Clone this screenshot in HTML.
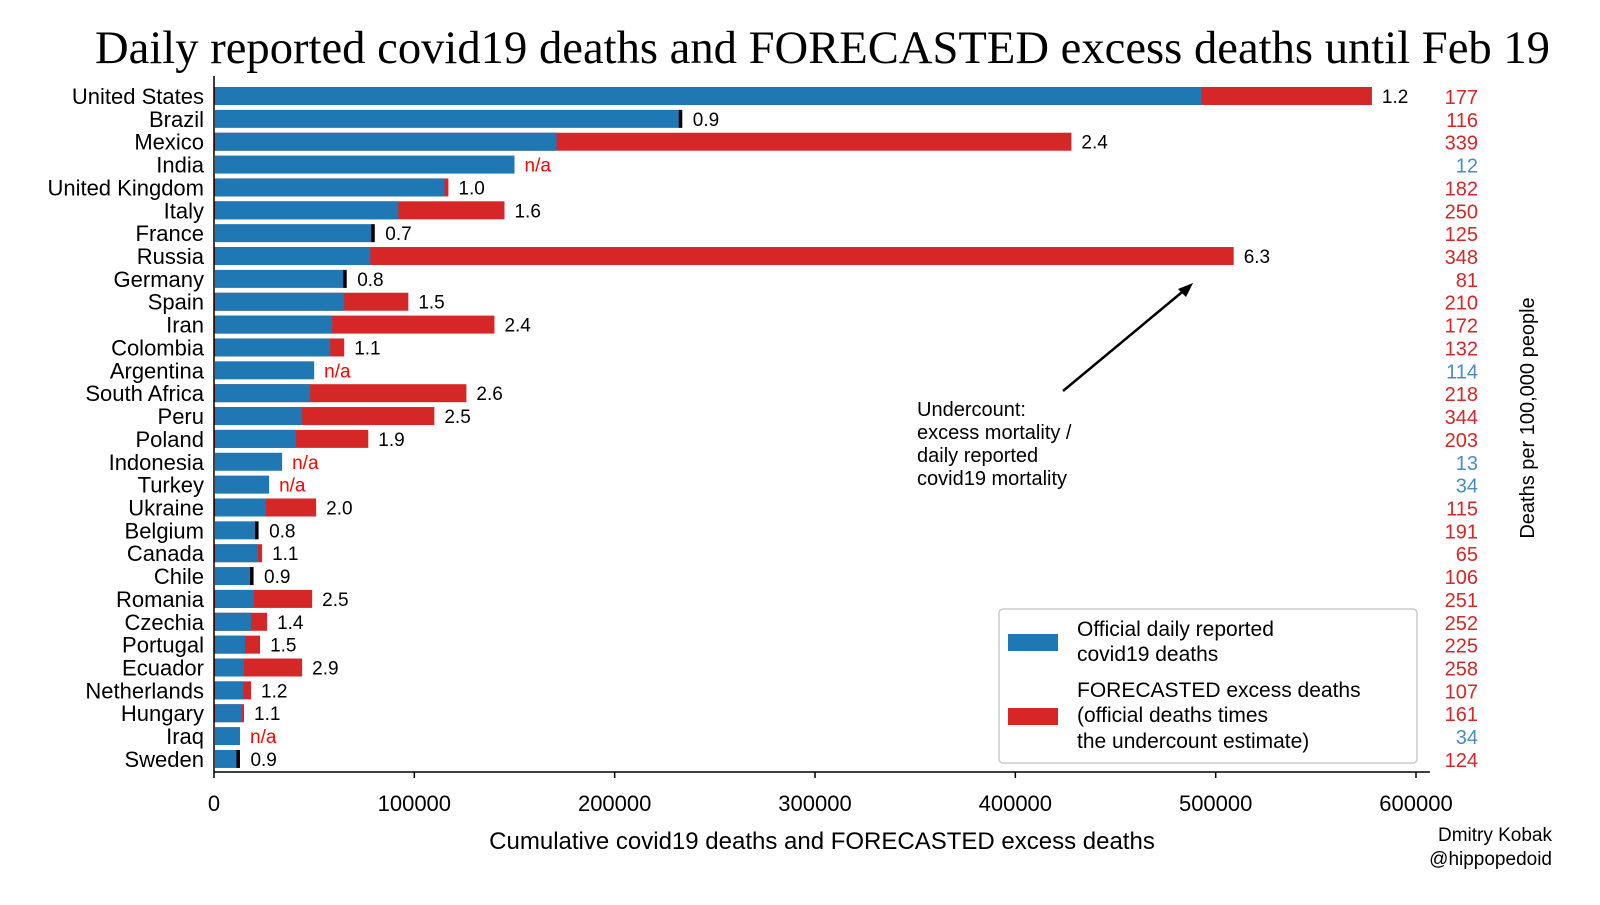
<!DOCTYPE html>
<html><head><meta charset="utf-8"><style>
body{margin:0;background:#fff;width:1600px;height:900px;overflow:hidden}
svg{font-family:"Liberation Sans",sans-serif}
</style></head><body>
<svg id="c" width="1600" height="900">
<text x="95" y="63" textLength="1455" lengthAdjust="spacingAndGlyphs" font-family="Liberation Serif,serif" font-size="47">Daily reported covid19 deaths and FORECASTED excess deaths until Feb 19</text>
<g id="bars"></g>
<line x1="214" y1="76" x2="214" y2="772" stroke="#000" stroke-width="1.5"/>
<line x1="214" y1="772" x2="1430" y2="772" stroke="#000" stroke-width="1.5"/>
<g id="xt"></g>
<text x="822" y="849" text-anchor="middle" font-size="24">Cumulative covid19 deaths and FORECASTED excess deaths</text>
<text transform="translate(1534,418) rotate(-90)" text-anchor="middle" font-size="20">Deaths per 100,000 people</text>
<text x="1552" y="841" text-anchor="end" font-size="19">Dmitry Kobak</text>
<text x="1552" y="865" text-anchor="end" font-size="19">@hippopedoid</text>
<g>
<line x1="1063" y1="391" x2="1187" y2="288" stroke="#000" stroke-width="2.5"/>
<polygon points="1193,283 1178,289 1186,297" fill="#000"/>
<text font-size="20" x="917" y="416">Undercount:</text>
<text font-size="20" x="917" y="439">excess mortality /</text>
<text font-size="20" x="917" y="462">daily reported</text>
<text font-size="20" x="917" y="485">covid19 mortality</text>
</g>
<g>
<rect x="999" y="609" width="418" height="154" rx="4" fill="#fff" stroke="#ccc" stroke-width="1.5"/>
<rect x="1008" y="634" width="50" height="17" fill="#1f77b4"/>
<text font-size="21" x="1077" y="636">Official daily reported</text>
<text font-size="21" x="1077" y="661">covid19 deaths</text>
<rect x="1008" y="708" width="50" height="17" fill="#d62728"/>
<text font-size="21" x="1077" y="697">FORECASTED excess deaths</text>
<text font-size="21" x="1077" y="722">(official deaths times</text>
<text font-size="21" x="1077" y="748">the undercount estimate)</text>
</g>
</svg>
<script>
const countries=["United States","Brazil","Mexico","India","United Kingdom","Italy","France","Russia","Germany","Spain","Iran","Colombia","Argentina","South Africa","Peru","Poland","Indonesia","Turkey","Ukraine","Belgium","Canada","Chile","Romania","Czechia","Portugal","Ecuador","Netherlands","Hungary","Iraq","Sweden"];
const official=[493000,232500,171000,150000,115000,92000,79000,78000,65000,65000,59000,58000,50000,48000,44000,41000,34000,27500,26000,21000,22000,18500,20000,18500,15500,15000,14500,14000,13000,11700];
const excess=[578000,232500,428000,null,117000,145000,79000,509000,65000,97000,140000,65000,null,126000,110000,77000,null,null,51000,21000,24000,18500,49000,26500,23000,44000,18500,15000,null,11700];
const ratioLabels=["1.2","0.9","2.4","n/a","1.0","1.6","0.7","6.3","0.8","1.5","2.4","1.1","n/a","2.6","2.5","1.9","n/a","n/a","2.0","0.8","1.1","0.9","2.5","1.4","1.5","2.9","1.2","1.1","n/a","0.9"];
const per100k=["177","116","339","12","182","250","125","348","81","210","172","132","114","218","344","203","13","34","115","191","65","106","251","252","225","258","107","161","34","124"];
const xTicks=[0,100000,200000,300000,400000,500000,600000];
const NS="http://www.w3.org/2000/svg";
const x=v=>214+v*(1202/600000);
const y=i=>96+i*22.86;
function mk(t,a,p){const e=document.createElementNS(NS,t);for(const k in a)e.setAttribute(k,a[k]);p.appendChild(e);return e;}
const g=document.getElementById('bars');
countries.forEach((c,i)=>{
 const cy=y(i),h=18;
 let t=mk('text',{x:204,y:cy+8,'text-anchor':'end','font-size':22},g);t.textContent=c;
 
 
 let end=x(official[i]);
 if(excess[i]!==null && excess[i]>official[i]){
  let r=mk('rect',{x:x(0),y:cy-h/2,width:x(excess[i])-x(0),height:h,fill:'#d62728'},g);
  
  
  end=x(excess[i]);
 }
 let b=mk('rect',{x:x(0)+1,y:cy-h/2,width:x(official[i])-x(0)-1,height:h,fill:'#1f77b4'},g);
 
 
 if(excess[i]!==null && excess[i]<=official[i]){
  let m=mk('rect',{x:x(official[i])-1,y:cy-h/2,width:3.5,height:h,fill:'#000'},g);
  
  
  end+=3;
 }
 const na=ratioLabels[i]==='n/a';
 let l=mk('text',{x:end+10,y:cy+7,'font-size':19,fill:na?'#ff0000':'#000'},g);l.textContent=ratioLabels[i];
 
 
 let p=mk('text',{x:1478,y:cy+8,'text-anchor':'end','font-size':20,fill:na?'#4a8bc2':'#d62728'},g);p.textContent=per100k[i];
 
 
});
const xt=document.getElementById('xt');
xTicks.forEach(v=>{
 let l=mk('line',{x1:x(v),x2:x(v),y1:772,y2:778,stroke:'#000','stroke-width':1.5},xt);
 
 
 let t=mk('text',{x:x(v),y:811,'text-anchor':'middle','font-size':22},xt);t.textContent=v;
 
 
});
</script>
</body></html>
